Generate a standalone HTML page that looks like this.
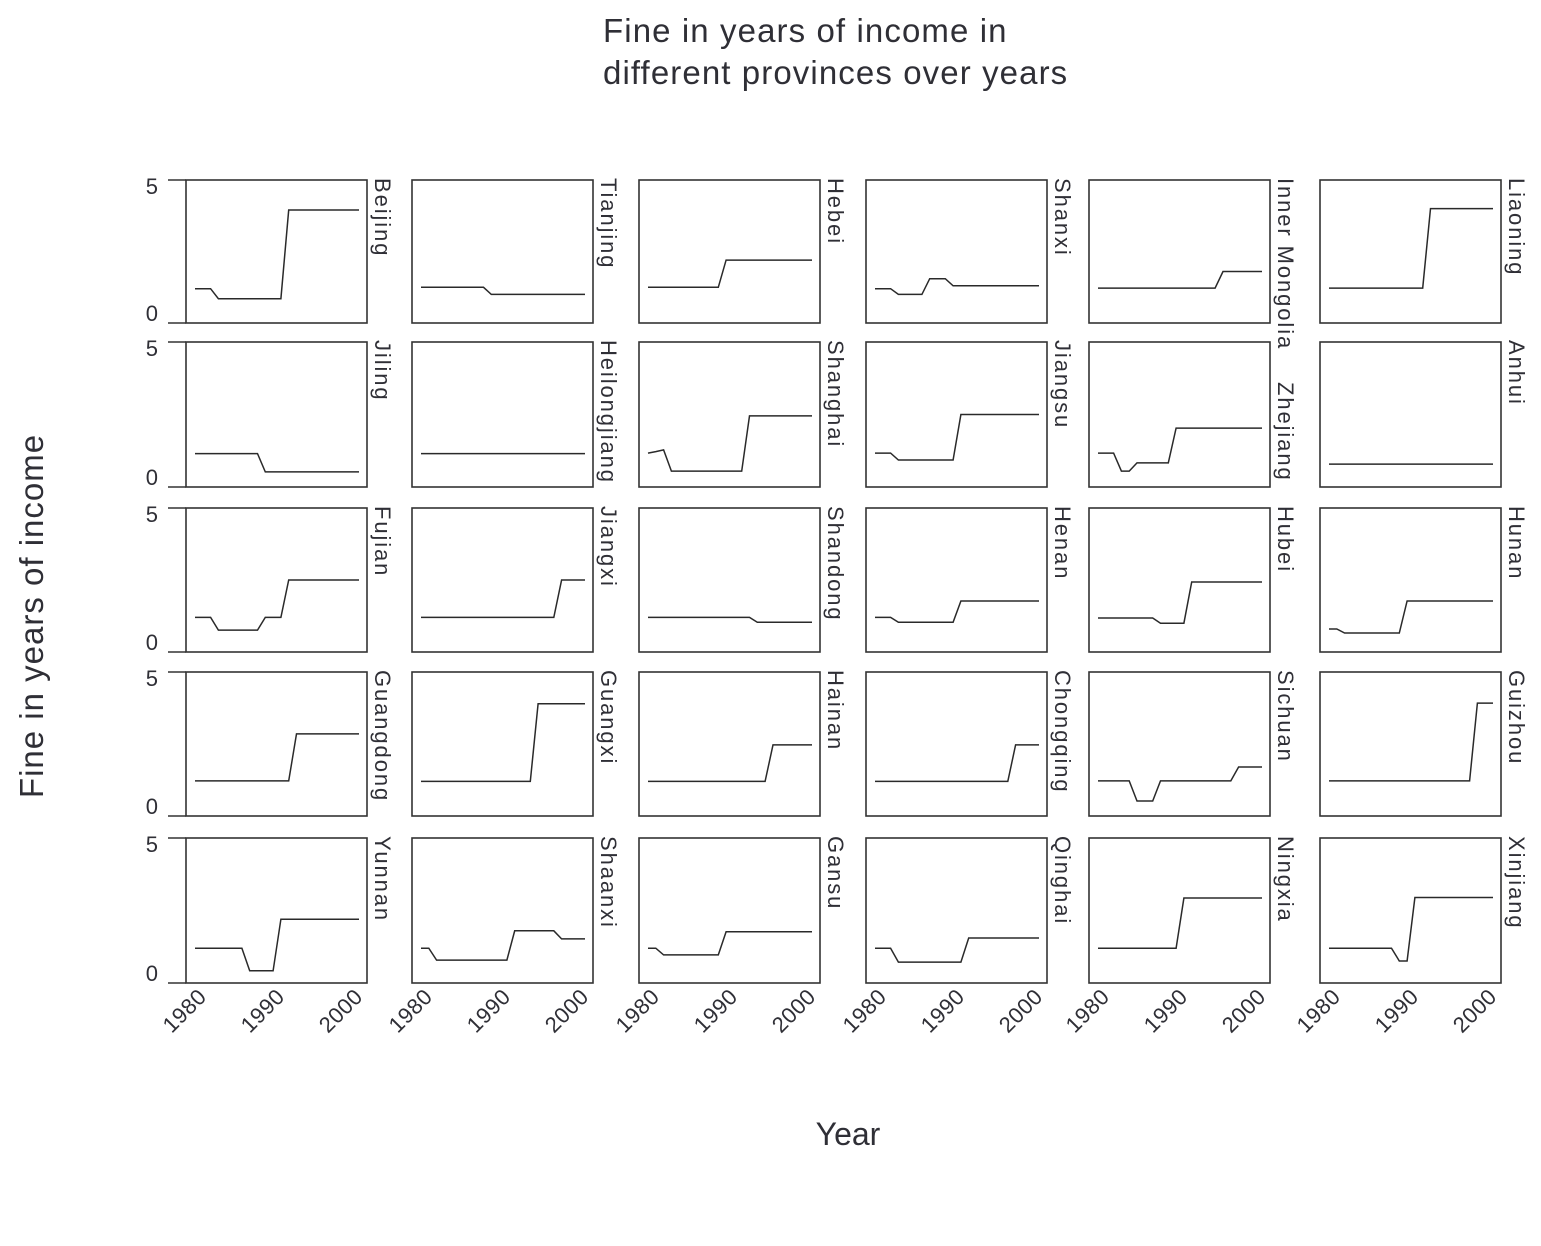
<!DOCTYPE html>
<html><head><meta charset="utf-8">
<style>
body{margin:0;background:#fff;}
svg{display:block;font-family:"Liberation Sans",sans-serif;fill:#2f2f36;}
</style></head>
<body>
<svg id="chart" width="1541" height="1246" viewBox="0 0 1541 1246" xmlns="http://www.w3.org/2000/svg">
<text x="603" y="42" font-size="33" letter-spacing="1.1">Fine in years of income in</text>
<text x="603" y="84" font-size="33" letter-spacing="1.1">different provinces over years</text>
<text x="848" y="1145" font-size="32" text-anchor="middle">Year</text>
<text transform="translate(43,616) rotate(-90)" font-size="33" letter-spacing="1" text-anchor="middle">Fine in years of income</text>
<g id="panels"></g>
</svg>
<script>
const provinces = ["Beijing","Tianjing","Hebei","Shanxi","Inner Mongolia","Liaoning",
"Jiling","Heilongjiang","Shanghai","Jiangsu","Zhejiang","Anhui",
"Fujian","Jiangxi","Shandong","Henan","Hubei","Hunan",
"Guangdong","Guangxi","Hainan","Chongqing","Sichuan","Guizhou",
"Yunnan","Shaanxi","Gansu","Qinghai","Ningxia","Xinjiang"];
const years = [1979,1980,1981,1982,1983,1984,1985,1986,1987,1988,1989,1990,1991,1992,1993,1994,1995,1996,1997,1998,1999,2000];
const xTicks = [1980,1990,2000];
const yTicks = [0,5];
function rep(v,n){return Array(n).fill(v);}
const vBeijing = [...rep(1.2,3),...rep(0.85,9),...rep(3.95,10)];
const vTianjing = [...rep(1.25,9),...rep(1.0,13)];
const vHebei = [...rep(1.25,10),...rep(2.2,12)];
const vShanxi = [...rep(1.2,3),...rep(1.0,4),...rep(1.55,3),...rep(1.3,12)];
const vInnerMongolia = [...rep(1.22,16),...rep(1.8,6)];
const vLiaoning = [...rep(1.22,13),...rep(4.0,9)];
const vJiling = [...rep(1.15,9),...rep(0.52,13)];
const vHeilongjiang = rep(1.15,22);
const vShanghai = [1.17,1.22,1.28,...rep(0.55,10),...rep(2.45,9)];
const vJiangsu = [...rep(1.17,3),...rep(0.93,8),...rep(2.5,11)];
const vZhejiang = [...rep(1.17,3),...rep(0.55,2),...rep(0.83,5),...rep(2.03,12)];
const vAnhui = rep(0.79,22);
const vFujian = [...rep(1.2,3),...rep(0.76,6),...rep(1.2,3),...rep(2.5,10)];
const vJiangxi = [...rep(1.2,18),...rep(2.5,4)];
const vShandong = [...rep(1.2,14),...rep(1.03,8)];
const vHenan = [...rep(1.2,3),...rep(1.03,8),...rep(1.77,11)];
const vHubei = [...rep(1.18,8),...rep(1.0,4),...rep(2.43,10)];
const vHunan = [...rep(0.8,2),...rep(0.66,8),...rep(1.77,12)];
const vGuangdong = [...rep(1.22,13),...rep(2.85,9)];
const vGuangxi = [...rep(1.2,15),...rep(3.9,7)];
const vHainan = [...rep(1.2,16),...rep(2.47,6)];
const vChongqing = [...rep(1.2,18),...rep(2.47,4)];
const vSichuan = [...rep(1.22,5),...rep(0.52,3),...rep(1.22,10),...rep(1.7,4)];
const vGuizhou = [...rep(1.22,19),...rep(3.92,3)];
const vYunnan = [...rep(1.2,7),...rep(0.42,4),...rep(2.2,11)];
const vShaanxi = [...rep(1.2,2),...rep(0.79,10),...rep(1.8,6),...rep(1.52,4)];
const vGansu = [...rep(1.2,2),...rep(0.97,8),...rep(1.77,12)];
const vQinghai = [...rep(1.2,3),...rep(0.72,9),...rep(1.55,10)];
const vNingxia = [...rep(1.2,11),...rep(2.93,11)];
const vXinjiang = [...rep(1.2,9),...rep(0.76,2),...rep(2.95,11)];
const series = [vBeijing,vTianjing,vHebei,vShanxi,vInnerMongolia,vLiaoning,vJiling,vHeilongjiang,vShanghai,vJiangsu,vZhejiang,vAnhui,vFujian,vJiangxi,vShandong,vHenan,vHubei,vHunan,vGuangdong,vGuangxi,vHainan,vChongqing,vSichuan,vGuizhou,vYunnan,vShaanxi,vGansu,vQinghai,vNingxia,vXinjiang];

const NS="http://www.w3.org/2000/svg";
const colLeft=[186,412,639,866,1089,1320];
const rowTop=[180,342,508,672,838];
const rowBot=[323,487,652,816,983];
const PW=181;
const g=document.getElementById('panels');
function mk(tag,attrs){const e=document.createElementNS(NS,tag);for(const k in attrs)e.setAttribute(k,attrs[k]);return e;}
const xs=(L,yr)=>L+9+(yr-1979)*(164/21);
const ys=(r,v)=>rowBot[r]-(v-0)/(5-0)*(rowBot[r]-rowTop[r]);
provinces.forEach((p,i)=>{
  const r=Math.floor(i/6),c=i%6,L=colLeft[c];
  const box=mk('rect',{x:L,y:rowTop[r],width:PW,height:rowBot[r]-rowTop[r],fill:'none',stroke:'#333','stroke-width':1.6});
  
  
  g.appendChild(box);
  const pts=years.map((yr,k)=>xs(L,yr).toFixed(1)+','+ys(r,series[i][k]).toFixed(1)).join(' ');
  const line=mk('polyline',{points:pts,fill:'none',stroke:'#2a2a2a','stroke-width':1.5});
  
  
  g.appendChild(line);
  const lx=L+PW+8,ly=rowTop[r]-2+(p==="Zhejiang"?42:0);
  const lab=mk('text',{transform:`translate(${lx},${ly}) rotate(90)`,'font-size':22,'letter-spacing':1.9});
  lab.textContent=p;
  
  
  g.appendChild(lab);
  if(c===0){
    yTicks.forEach(t=>{
      const y=ys(r,t);
      const tk=mk('line',{x1:168,x2:L,y1:y,y2:y,stroke:'#333','stroke-width':1.6});
      
      
      g.appendChild(tk);
      const tl=mk('text',{x:158,y:t===0?y-2:y+14,'font-size':22,'text-anchor':'end'});
      tl.textContent=t;
      
      
      g.appendChild(tl);
    });
  }
  if(r===4){
    xTicks.forEach(t=>{
      const x=xs(L,t)+5,y=998;
      const tl=mk('text',{transform:`translate(${x},${y}) rotate(-45)`,'font-size':22,'letter-spacing':0.5,'text-anchor':'end'});
      tl.textContent=t;
      
      
      g.appendChild(tl);
    });
  }
});
</script>
</body></html>
